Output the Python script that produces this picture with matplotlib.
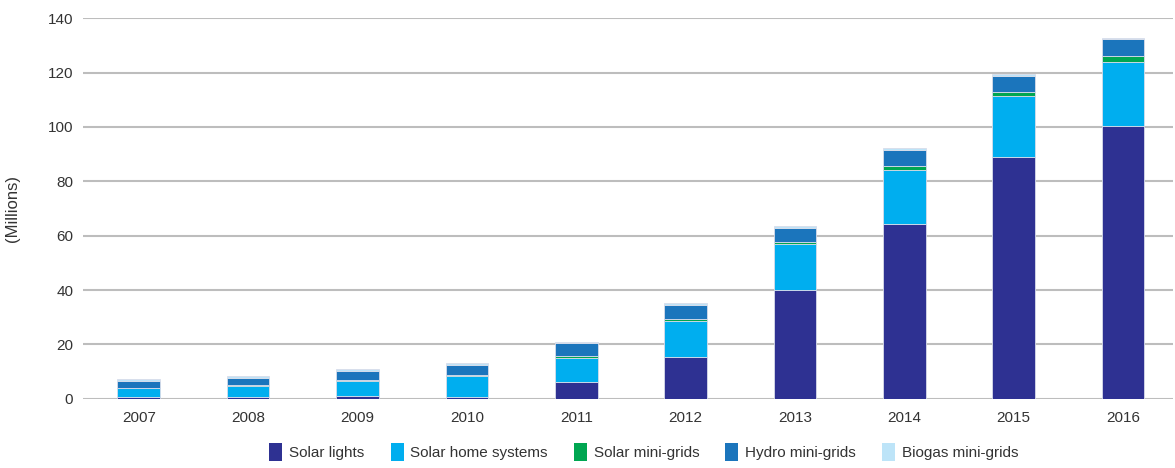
import numpy as np
import matplotlib.pyplot as plt
from matplotlib.patches import Patch

years = ['2007', '2008', '2009', '2010', '2011', '2012', '2013', '2014', '2015', '2016']
solar_lights = [0.6, 0.6, 1.1, 0.6, 6.0, 15.5, 40.0, 64.3, 88.9, 100.2]
solar_home = [3.2, 4.2, 5.4, 7.6, 9.1, 13.1, 16.9, 20.0, 22.4, 23.6]
solar_mini = [0.1, 0.1, 0.5, 0.6, 0.6, 0.7, 0.7, 1.2, 1.7, 2.2]
hydro_mini = [2.6, 2.8, 3.3, 3.7, 4.7, 5.2, 5.2, 6.1, 5.9, 6.4]
biogas_mini = [0.7, 0.7, 0.7, 0.8, 0.6, 0.6, 0.6, 0.8, 0.7, 0.4]

series = [
    ('Solar lights', solar_lights, '#2E3192'),
    ('Solar home systems', solar_home, '#00AEEF'),
    ('Solar mini-grids', solar_mini, '#00A651'),
    ('Hydro mini-grids', hydro_mini, '#1B75BC'),
    ('Biogas mini-grids', biogas_mini, '#BDE4F8'),
]

plt.rcParams['font.family'] = ['Liberation Sans', 'DejaVu Sans']

fig = plt.figure(figsize=(11.75, 4.68), dpi=100)
ax = fig.add_axes([0.0706, 0.148, 0.928, 0.813])

x = np.arange(len(years))
bottom = np.zeros(len(years))
for name, vals, col in series:
    ax.bar(x, vals, bottom=bottom, width=0.39, color=col, edgecolor='#D8DCEA',
           linewidth=0.6, zorder=3)
    bottom += np.array(vals)

ax.set_ylim(0, 140)
ax.set_xlim(-0.51, 9.46)
ax.set_yticks(range(0, 141, 20))
ax.set_xticks(x)
ax.set_xticklabels(years)
ax.yaxis.grid(True, color='#BDBDBD', linewidth=1.5, zorder=0)
ax.set_axisbelow(True)
for s in ax.spines.values():
    s.set_visible(False)
ax.tick_params(axis='both', length=0, labelsize=11, colors='#333333')
ax.tick_params(axis='y', pad=7)
ax.tick_params(axis='x', pad=9)
ax.set_ylabel('(Millions)', fontsize=12, color='#333333')
ax.yaxis.set_label_coords(-0.058, 0.5)

handles = [Patch(facecolor=c, edgecolor='none', label=n) for n, _, c in series]
fig.legend(handles=handles, loc='center', bbox_to_anchor=(0.548, 0.034), ncol=5,
           frameon=False, fontsize=11, handlelength=0.85, handleheight=1.4,
           handletextpad=0.45, columnspacing=1.7, labelcolor='#333333')

fig.savefig('out.png', dpi=100)
